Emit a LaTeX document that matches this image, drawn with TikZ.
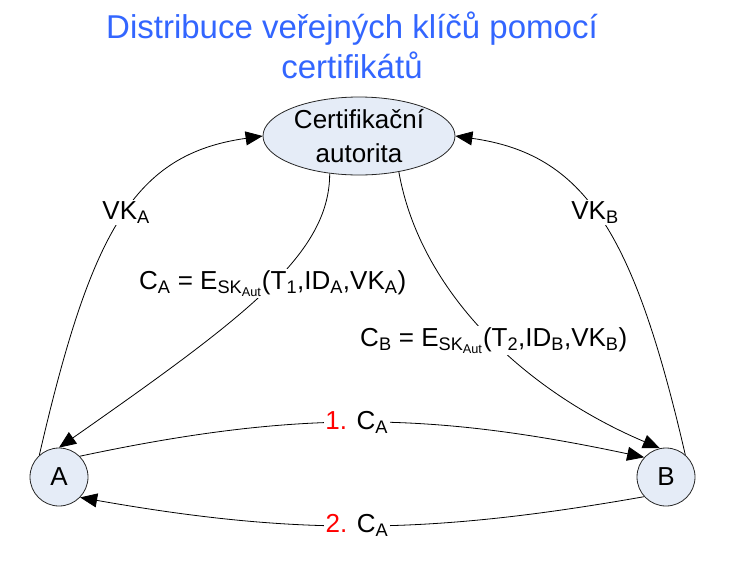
\documentclass[tikz,border=0pt]{standalone}
\usepackage{fontspec}
\setmainfont{Liberation Sans}
\usetikzlibrary{arrows.meta,shapes.geometric}

\definecolor{titleblue}{RGB}{51,102,255}
\definecolor{nodefill}{RGB}{229,236,247}
\definecolor{numred}{RGB}{255,0,0}

\begin{document}
\begin{tikzpicture}[x=1pt,y=1pt,line width=0.8pt,
  party/.style={circle,draw=black!85,fill=nodefill,minimum size=58pt,inner sep=0pt,font=\fontsize{26}{30}\selectfont},
  authority/.style={ellipse,draw=black!85,fill=nodefill,minimum width=192pt,minimum height=78pt,inner sep=0pt,align=center,font=\fontsize{26}{34}\selectfont},
  msg/.style={fill=white,inner sep=1.5pt,font=\fontsize{26}{30}\selectfont},
  tip/.style={-{Triangle[length=17pt,width=14pt]}}]
\useasboundingbox (0,0) rectangle (730,-563);

\node[align=center,text=titleblue,font=\fontsize{33}{40}\selectfont] (title) at (352,-45) {Distribuce veřejných klíčů pomocí\\certifikátů};

\node[authority] (ca) at (359,-136) {Certifikační\\autorita};
\node[party] (A) at (59,-477) {A};
\node[party] (B) at (666,-477) {B};

% public keys to the authority
\draw[tip] (A.132) to[out=77,in=188,out distance=230pt,in distance=130pt] node[msg,pos=0.52] {VK\textsubscript{A}} (ca.west);
\draw[tip] (B.49) to[out=103,in=-8,out distance=230pt,in distance=130pt] node[msg,pos=0.52] {VK\textsubscript{B}} (ca.east);

% certificates
\draw[tip] (ca.232) to[out=270,in=35,out distance=80pt,in distance=230pt] node[msg,pos=0.47] {C\textsubscript{A} = E\textsubscript{SK\textsubscript{Aut}}(T\textsubscript{1},ID\textsubscript{A},VK\textsubscript{A})} (A.north);
\draw[tip] (ca.318) to[out=280,in=157,out distance=120pt,in distance=150pt] node[msg,pos=0.53] {C\textsubscript{B} = E\textsubscript{SK\textsubscript{Aut}}(T\textsubscript{2},ID\textsubscript{B},VK\textsubscript{B})} (B.102);

% exchange
\draw[tip] (A.45) to[out=12,in=168] node[msg,pos=0.49] {\textcolor{numred}{1.} C\textsubscript{A}} (B.138);
\draw[tip] (B.222) to[out=190,in=350] node[msg,pos=0.51] {\textcolor{numred}{2.} C\textsubscript{A}} (A.316);

\end{tikzpicture}
\end{document}
